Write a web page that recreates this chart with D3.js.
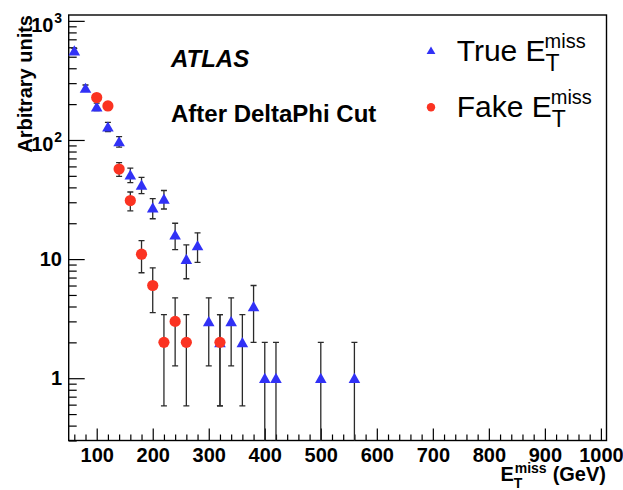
<!DOCTYPE html>
<html>
<head>
<meta charset="utf-8">
<script src="https://cdn.jsdelivr.net/npm/d3@7"></script>
<style>
  html, body { margin: 0; padding: 0; background: #fff; }
  svg { display: block; font-family: "Liberation Sans", Arial, Helvetica, sans-serif; }
</style>
</head>
<body>
<svg id="chart" width="623" height="490"></svg>
<script>
// Missing transverse energy spectra after the DeltaPhi cut (event counts per 20 GeV bin)
const trueX = [60, 80, 100, 120, 140, 160, 180, 200, 220, 240, 260, 280, 300, 320, 340, 360, 380, 400, 420, 500, 560];
const trueY = [563, 273, 190, 129, 97, 51, 42, 27, 32, 16, 10, 13, 3, 2, 3, 2, 4, 1, 1, 1, 1];
const fakeX = [100, 120, 140, 160, 180, 200, 220, 240, 260, 320];
const fakeY = [227, 193, 57, 31, 11, 6, 2, 3, 2, 2];

const xMajorTicks = [100, 200, 300, 400, 500, 600, 700, 800, 900, 1000];
const yMajorTicks = [1, 10, 100, 1000];
const yTickExponents = ["", "", "2", "3"];
const yTickBases = ["1", "10", "10", "10"];

const svg = d3.select("#chart");
const frameL = 68.7, frameR = 606.5, frameT = 15, frameB = 440.5;

const x = d3.scaleLinear().domain([50, 1010]).range([frameL, frameR]);
const y = d3.scaleLog().domain([0.3, 1120]).range([frameB, frameT]);

const BLUE = "#3131f6";
const RED = "#fb3322";

// minor x ticks every 20 GeV
const xMinor = d3.range(60, 1001, 20).filter(v => v % 100 !== 0);
svg.append("g")
  .attr("transform", `translate(0,${frameB})`)
  .call(d3.axisBottom(x).tickValues(xMinor).tickSize(-6).tickFormat(""))
  .call(g => g.select(".domain").remove())
  .call(g => g.selectAll("line").attr("stroke", "#000").attr("stroke-width", 1.2));

const xAxis = svg.append("g")
  .attr("transform", `translate(0,${frameB})`)
  .call(d3.axisBottom(x).tickValues(xMajorTicks).tickSize(-12).tickFormat(d3.format("d")))
  .call(g => g.select(".domain").remove())
  .call(g => g.selectAll("line").attr("stroke", "#000").attr("stroke-width", 1.2));
xAxis.selectAll("text")
  .attr("y", 21).attr("dy", null)
  .attr("fill", "#000")
  .style("font-family", "'Liberation Sans', Arial, sans-serif")
  .style("font-size", "20px").style("font-weight", "bold");

// minor y ticks at 2..9 of each decade
const yMinor = [];
[0.1, 1, 10, 100].forEach(d => {
  for (let k = 2; k <= 9; k++) {
    const v = +(k * d).toPrecision(3);
    if (v >= 0.3 && v < 1120) yMinor.push(v);
  }
});
svg.append("g")
  .attr("transform", `translate(${frameL},0)`)
  .call(d3.axisLeft(y).tickValues(yMinor).tickSize(-8).tickFormat(""))
  .call(g => g.select(".domain").remove())
  .call(g => g.selectAll("line").attr("stroke", "#000").attr("stroke-width", 1.2));

svg.append("g")
  .attr("transform", `translate(${frameL},0)`)
  .call(d3.axisLeft(y).tickValues(yMajorTicks).tickSize(-16).tickFormat(""))
  .call(g => g.select(".domain").remove())
  .call(g => g.selectAll("line").attr("stroke", "#000").attr("stroke-width", 1.2));

// y tick labels in powers-of-ten notation
const yLab = svg.append("g")
  .style("font-family", "'Liberation Sans', Arial, sans-serif")
  .style("font-weight", "bold").attr("fill", "#000");
yMajorTicks.forEach((v, i) => {
  const ty = y(v);
  if (yTickExponents[i]) {
    yLab.append("text").attr("x", 62).attr("y", ty + 2)
      .attr("text-anchor", "end").style("font-size", "14px").text(yTickExponents[i]);
    yLab.append("text").attr("x", 53.5).attr("y", ty + 11)
      .attr("text-anchor", "end").style("font-size", "20px").text(yTickBases[i]);
  } else {
    yLab.append("text").attr("x", 62).attr("y", ty + 7)
      .attr("text-anchor", "end").style("font-size", "20px").text(yTickBases[i]);
  }
});

// frame
svg.append("rect")
  .attr("x", frameL).attr("y", frameT)
  .attr("width", frameR - frameL).attr("height", frameB - frameT)
  .attr("fill", "none").attr("stroke", "#000").attr("stroke-width", 1.4);

// clip region for error bars
svg.append("clipPath").attr("id", "plotArea")
  .append("rect").attr("x", frameL).attr("y", frameT)
  .attr("width", frameR - frameL).attr("height", frameB - frameT);

function drawSeries(xs, ys, color, shape) {
  const pts = xs.map((v, i) => ({ x: v, n: ys[i], err: Math.sqrt(ys[i]) }));
  const eg = svg.append("g").attr("clip-path", "url(#plotArea)")
    .attr("stroke", "#2a2a2a").attr("stroke-width", 1.3);
  pts.forEach(p => {
    const cx = x(p.x);
    const hi = p.n + p.err;
    const lo = p.n - p.err;
    const yHi = y(hi);
    const yLo = lo > 0.3 ? y(lo) : frameB + 5;
    eg.append("line").attr("x1", cx).attr("x2", cx).attr("y1", yHi).attr("y2", yLo);
    eg.append("line").attr("x1", cx - 3).attr("x2", cx + 3).attr("y1", yHi).attr("y2", yHi);
    if (lo > 0.3) eg.append("line").attr("x1", cx - 3).attr("x2", cx + 3).attr("y1", yLo).attr("y2", yLo);
  });
  const mg = svg.append("g");
  if (shape === "triangle") {
    mg.selectAll("path").data(pts).join("path")
      .attr("d", p => {
        const cx = x(p.x), cy = y(p.n);
        return `M${cx},${cy - 5.4}L${cx + 5.8},${cy + 4.8}L${cx - 5.8},${cy + 4.8}Z`;
      })
      .attr("fill", color);
  } else {
    mg.selectAll("circle").data(pts).join("circle")
      .attr("cx", p => x(p.x)).attr("cy", p => y(p.n)).attr("r", 5.6)
      .attr("fill", color);
  }
}

drawSeries(trueX, trueY, BLUE, "triangle");
drawSeries(fakeX, fakeY, RED, "circle");

// text helper: "prefix E" with a superscript and a subscript, then an optional suffix
function eLabel(parent, x0, base, opt) {
  const g = parent.append("g")
    .style("font-family", "'Liberation Sans', Arial, sans-serif")
    .style("font-weight", opt.weight).attr("fill", "#000");
  const main = g.append("text").attr("x", x0).attr("y", base)
    .style("font-size", opt.size + "px").text(opt.prefix + "E");
  const w = main.node().getComputedTextLength();
  const sup = g.append("text").attr("x", x0 + w + opt.supGap).attr("y", base - opt.supRaise)
    .style("font-size", opt.supSize + "px").text("miss");
  const sub = g.append("text").attr("x", x0 + w + opt.subGap).attr("y", base + opt.subDrop)
    .style("font-size", opt.subSize + "px").text("T");
  const end = x0 + w + Math.max(opt.supGap + sup.node().getComputedTextLength(),
                                opt.subGap + sub.node().getComputedTextLength());
  if (opt.suffix) {
    g.append("text").attr("x", end + opt.size * 0.3).attr("y", base)
      .style("font-size", opt.size + "px").text(opt.suffix);
  }
  return g;
}

// axis titles
svg.append("text")
  .attr("transform", "translate(32,15) rotate(-90)")
  .attr("text-anchor", "end")
  .style("font-size", "20px").style("font-weight", "bold")
  .text("Arbitrary units");

const xt = eLabel(svg, 0, 481, {
  prefix: "", suffix: "(GeV)", weight: "bold", size: 20,
  supSize: 14, supRaise: 8, supGap: 1, subSize: 14, subDrop: 7, subGap: 0
});
const xtBox = xt.node().getBBox();
xt.attr("transform", `translate(${606 - (xtBox.x + xtBox.width)},0)`);

// labels inside the frame
svg.append("text").attr("x", 171).attr("y", 67)
  .style("font-size", "24px").style("font-weight", "bold").style("font-style", "italic")
  .text("ATLAS");
svg.append("text").attr("x", 171).attr("y", 122)
  .style("font-size", "24px").style("font-weight", "bold")
  .text("After DeltaPhi Cut");

// legend
const lg = svg.append("g");
lg.append("path")
  .attr("d", `M431,${50.5 - 4}L${431 + 4.4},${50.5 + 3.6}L${431 - 4.4},${50.5 + 3.6}Z`)
  .attr("fill", BLUE);
lg.append("circle").attr("cx", 431).attr("cy", 107.3).attr("r", 4.2).attr("fill", RED);
eLabel(lg, 456.7, 60.7, {
  prefix: "True ", suffix: "", weight: "normal", size: 30,
  supSize: 20, supRaise: 12.5, supGap: -1, subSize: 23, subDrop: 10, subGap: 0
});
eLabel(lg, 456.7, 116.7, {
  prefix: "Fake ", suffix: "", weight: "normal", size: 30,
  supSize: 20, supRaise: 12.5, supGap: -1, subSize: 23, subDrop: 10, subGap: 0
});
</script>
</body>
</html>
